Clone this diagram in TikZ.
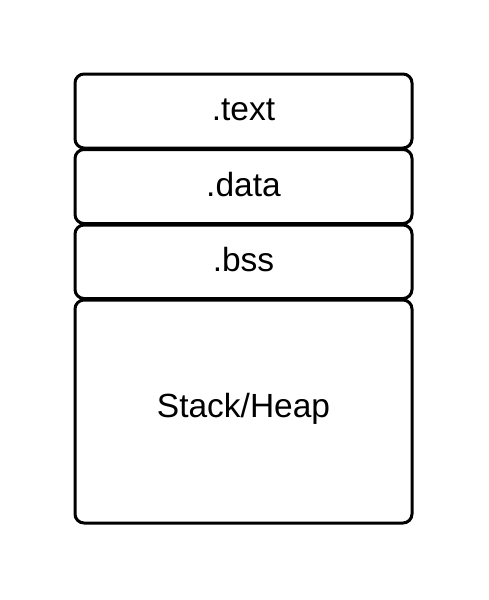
\documentclass[tikz,border=0pt]{standalone}
\usepackage{fontspec}
\setmainfont{Liberation Sans}
\begin{document}
\begin{tikzpicture}[x=1pt,y=-1pt,
  seg/.style={draw=black,line width=3pt,rounded corners=9pt,fill=white},
  lbl/.style={font=\fontsize{33.5}{40}\selectfont,inner sep=0pt}]
\useasboundingbox (0,0) rectangle (488,600);
\draw[seg] (75,74) rectangle (412,148);
\draw[seg] (75,149.5) rectangle (412,223.5);
\draw[seg] (75,225) rectangle (412,298.5);
\draw[seg] (75,300) rectangle (412,523);
\node[lbl] (t) at (243.5,110) {.text};
\node[lbl] (d) at (243.5,185) {.data};
\node[lbl] (b) at (243.5,260) {.bss};
\node[lbl] (s) at (243.5,409) {Stack/Heap};
\end{tikzpicture}
\end{document}
